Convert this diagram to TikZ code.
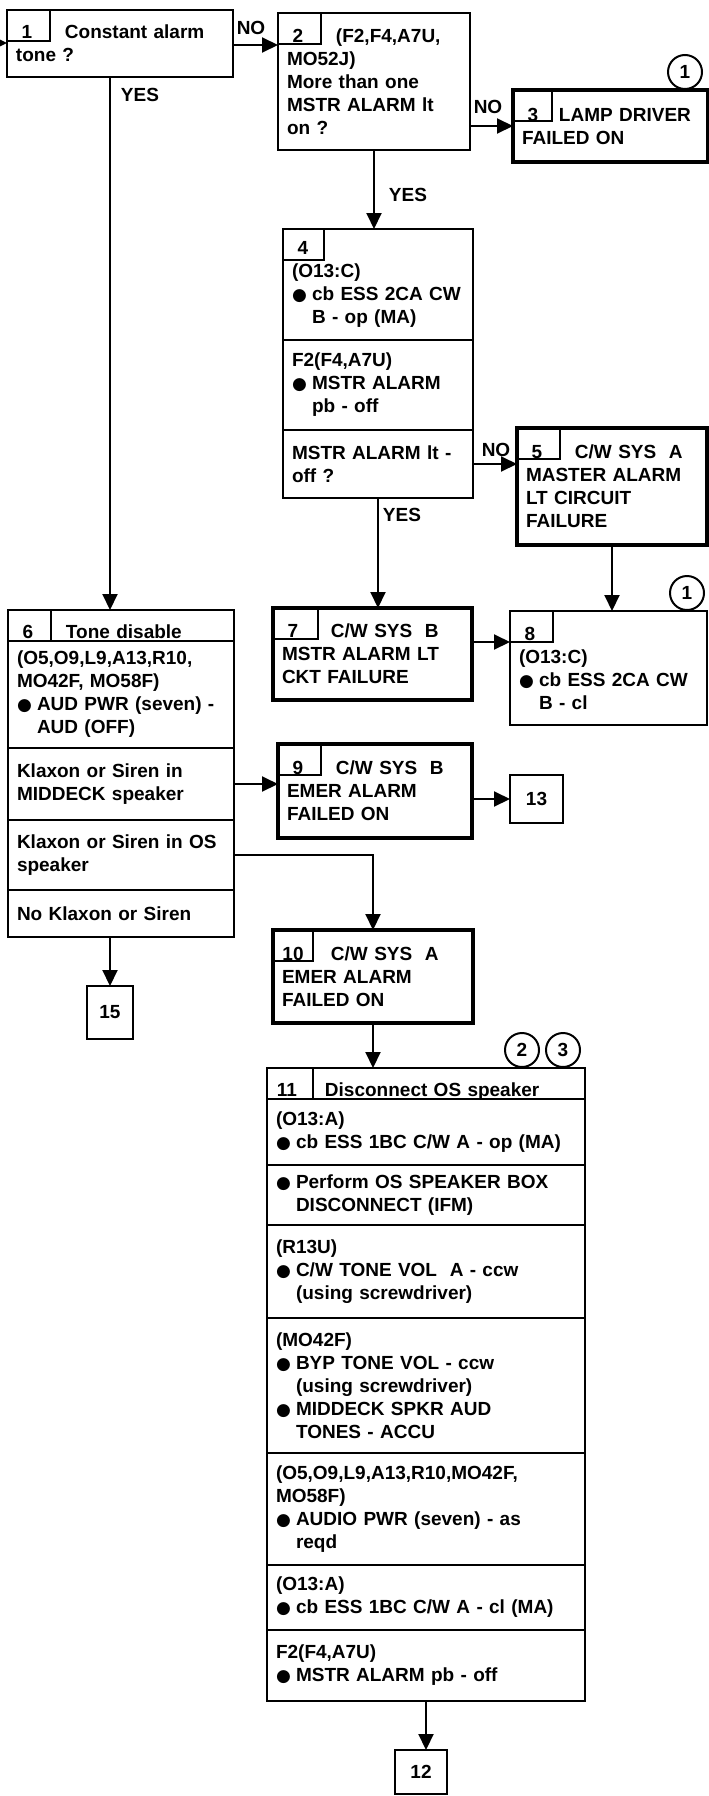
\documentclass[tikz,border=0pt]{standalone}
\usepackage{fontspec}
\setmainfont{Liberation Sans}
\newfontfamily\symfont{DejaVu Sans}
\usetikzlibrary{arrows.meta, positioning}
\newcommand{\boxfont}{\fontsize{19}{23}\selectfont\bfseries}
\newcommand{\nr}[2][49pt]{\makebox[#1][l]{\makebox[22pt]{#2}}}
\newcommand{\bl}{\makebox[20pt][l]{{\symfont\fontsize{17}{23}\selectfont ●}}}
\newcommand{\hi}{\hspace*{20pt}}
\tikzset{
  blk/.style 2 args={
    draw, line width=2pt, inner xsep=9pt, inner ysep=2pt, outer sep=0pt,
    align=left, font=\boxfont, text width=#1, minimum height=#2
  },
  fault/.style={line width=4.5pt},
  hdr/.style={text height=26pt, text depth=0pt},
  numtab/.style={
    draw, line width=2pt, outer sep=0pt, inner sep=0pt,
    minimum width=#1, minimum height=31pt, anchor=north west
  },
  numtab/.default=43pt,
  termbox/.style 2 args={
    draw, line width=2pt, outer sep=0pt, inner sep=0pt, font=\boxfont,
    minimum width=#1, minimum height=#2, anchor=north west
  },
  refc/.style={
    circle, draw, line width=2pt, inner sep=0pt, minimum size=34pt,
    font=\boxfont, anchor=south
  },
  lbl/.style={font=\boxfont, inner sep=0pt},
  arrow/.style={-{Triangle[length=16pt,width=15pt]}, line width=2pt}
}

\begin{document}
\begin{tikzpicture}[x=1pt, y=-1pt]
  \path[use as bounding box, fill=white] (0,0) rectangle (709,1796);

  % top row
  \node[blk={208pt}{67pt}, anchor=north west] (b1) at (7,10) {\nr{1}Constant alarm\\tone ?};
  \node[numtab] (t1) at (b1.north west) {};
  \node[blk={174pt}{137pt}, anchor=north west] (b2) at (278,13) {
    \nr{2}(F2,F4,A7U,\\MO52J)\\More than one\\MSTR ALARM lt\\on ?};
  \node[numtab] (t2) at (b2.north west) {};
  \node[blk={177pt}{72pt}, fault, anchor=north west] (b3) at (513,90) {\nr[37pt]{3}LAMP DRIVER\\FAILED ON};
  \node[numtab=39pt] (t3) at (b3.north west) {};
  \node[refc] (c1) at ([xshift=-23pt]b3.north east) {1};

  % step 4
  \node[blk={172pt}{111pt}, anchor=north west] (s4a) at (283,229) {
    \nr{4}\\(O13:C)\\\bl cb ESS 2CA CW\\\hi B - op (MA)};
  \node[blk={172pt}{90pt}, below=0pt of s4a] (s4b) {F2(F4,A7U)\\\bl MSTR ALARM\\\hi pb - off};
  \node[blk={172pt}{68pt}, below=0pt of s4b] (s4c) {MSTR ALARM lt -\\off ?};
  \node[numtab=41pt] (t4) at (s4a.north west) {};
  \node[blk={172pt}{117pt}, fault, anchor=north west] (b5) at (517,428) {
    \nr{5}C/W SYS\ \ A\\MASTER ALARM\\LT CIRCUIT\\FAILURE};
  \node[numtab] (t5) at (b5.north west) {};

  % step 6
  \node[blk={208pt}{31pt}, hdr, anchor=north west] (h6) at (8,610) {\nr{6}Tone disable};
  \node[blk={208pt}{107pt}, below=0pt of h6] (s6a) {
    (O5,O9,L9,A13,R10,\\MO42F, MO58F)\\\bl AUD PWR (seven) -\\\hi AUD (OFF)};
  \node[blk={208pt}{72pt}, below=0pt of s6a] (s6b) {Klaxon or Siren in\\MIDDECK speaker};
  \node[blk={208pt}{70pt}, below=0pt of s6b] (s6c) {Klaxon or Siren in OS\\speaker};
  \node[blk={208pt}{47pt}, below=0pt of s6c] (s6d) {No Klaxon or Siren};
  \node[numtab] (t6) at (h6.north west) {};

  \node[blk={181pt}{92pt}, fault, anchor=north west] (b7) at (273,608) {
    \nr{7}C/W SYS\ \ B\\MSTR ALARM LT\\CKT FAILURE};
  \node[numtab=45pt] (t7) at (b7.north west) {};
  \node[blk={179pt}{114pt}, anchor=north west] (b8) at (510,611) {
    \nr{8}\\(O13:C)\\\bl cb ESS 2CA CW\\\hi B - cl};
  \node[numtab] (t8) at (b8.north west) {};
  \node[refc] (c2) at ([xshift=-20pt]b8.north east) {1};
  \node[blk={176pt}{94pt}, fault, anchor=north west] (b9) at (278,744) {
    \nr{9}C/W SYS\ \ B\\EMER ALARM\\FAILED ON};
  \node[numtab] (t9) at (b9.north west) {};
  \node[termbox={53pt}{48pt}] (b13) at (510,775) {13};
  \node[blk={182pt}{93pt}, fault, anchor=north west] (b10) at (273,930) {
    \nr{10}C/W SYS\ \ A\\EMER ALARM\\FAILED ON};
  \node[numtab=40pt] (t10) at (b10.north west) {};
  \node[termbox={46pt}{53pt}] (b15) at (87,986) {15};

  % step 11
  \node[blk={300pt}{31pt}, hdr, anchor=north west] (h11) at (267,1068) {\nr{11}Disconnect OS speaker};
  \node[blk={300pt}{66pt}, below=0pt of h11] (s11a) {(O13:A)\\\bl cb ESS 1BC C/W A - op (MA)};
  \node[blk={300pt}{60pt}, below=0pt of s11a] (s11b) {\bl Perform OS SPEAKER BOX\\\hi DISCONNECT (IFM)};
  \node[blk={300pt}{93pt}, below=0pt of s11b] (s11c) {
    (R13U)\\\bl C/W TONE VOL\ \ A - ccw\\\hi (using screwdriver)};
  \node[blk={300pt}{135pt}, below=0pt of s11c] (s11d) {
    (MO42F)\\\bl BYP TONE VOL - ccw\\\hi (using screwdriver)\\\bl MIDDECK SPKR AUD\\\hi TONES - ACCU};
  \node[blk={300pt}{112pt}, below=0pt of s11d] (s11e) {
    (O5,O9,L9,A13,R10,MO42F,\\MO58F)\\\bl AUDIO PWR (seven) - as\\\hi reqd};
  \node[blk={300pt}{65pt}, below=0pt of s11e] (s11f) {(O13:A)\\\bl cb ESS 1BC C/W A - cl (MA)};
  \node[blk={300pt}{71pt}, below=0pt of s11f] (s11g) {F2(F4,A7U)\\\bl MSTR ALARM pb - off};
  \node[numtab=46pt] (t11) at (h11.north west) {};
  \node[refc] (c3) at ([xshift=-63pt]h11.north east) {2};
  \node[refc] (c4) at ([xshift=-22pt]h11.north east) {3};
  \node[termbox={52pt}{44pt}] (b12) at (395,1750) {12};

  % labels
  \node[lbl] (no1) at (251,28) {NO};
  \node[lbl] (yes1) at (140,95) {YES};
  \node[lbl] (no2) at (488,107) {NO};
  \node[lbl] (yes2) at (408,195) {YES};
  \node[lbl] (no3) at (496,450) {NO};
  \node[lbl] (yes3) at (402,515) {YES};

  % connectors
  \coordinate (entry) at (-30,43);
  \draw[arrow] (entry) -- (entry -| b1.west);
  \draw[arrow] ([yshift=-35pt]b1.north east) -- ([yshift=-35pt]b1.north east -| b2.west);
  \draw[arrow] (b3.west -| b2.east) -- (b3.west);
  \draw[arrow] (b2.south) -- (b2.south |- s4a.north);
  \draw[arrow] ([xshift=-10pt]b1.south) -- ([xshift=-10pt]b1.south |- h6.north);
  \draw[arrow] (s4c.east) -- (s4c.east -| b5.west);
  \draw[arrow] (s4c.south) -- (s4c.south |- b7.north);
  \draw[arrow] (b5.south) -- (b5.south |- b8.north);
  \draw[arrow] ([yshift=-34pt]b7.north east) -- ([yshift=-34pt]b7.north east -| b8.west);
  \draw[arrow] (s6b.east) -- (s6b.east -| b9.west);
  \draw[arrow] (b13.west -| b9.east) -- (b13.west);
  \draw[arrow] (s6c.east) -| (b10.north);
  \draw[arrow] (b15.north |- s6d.south) -- (b15.north);
  \draw[arrow] (b10.south) -- (b10.south |- h11.north);
  \draw[arrow] (s11g.south) -- (s11g.south |- b12.north);
\end{tikzpicture}
\end{document}
